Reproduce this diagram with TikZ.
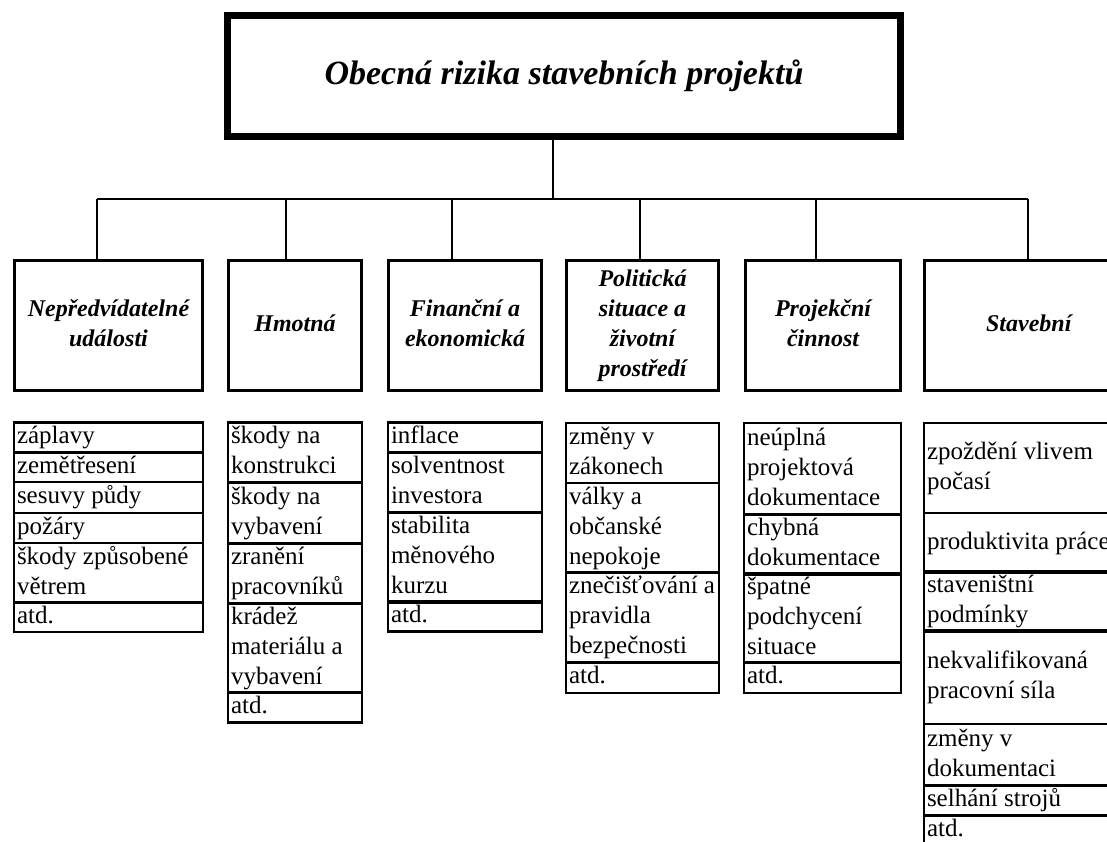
\documentclass[tikz,border=0pt]{standalone}
\usepackage{fontspec}
\setmainfont{Liberation Serif}
\tikzset{
  titlebox/.style={draw, line width=7pt, inner sep=0pt,
    font=\fontsize{34}{40}\selectfont\bfseries\itshape},
  headbox/.style={draw, line width=3pt, inner xsep=3pt, inner ysep=0pt, align=flush center,
    font=\fontsize{24}{30}\selectfont\bfseries\itshape,
    execute at begin node={\spaceskip=0pt\xspaceskip=0pt\strut}, execute at end node=\strut},
  itembox/.style={draw, line width=2.5pt, inner xsep=3pt, inner ysep=0pt, align=flush left,
    font=\fontsize{25}{30}\selectfont,
    execute at begin node={\spaceskip=0pt\xspaceskip=0pt\strut}, execute at end node=\strut},
  link/.style={line width=1.4pt}
}
% box of a given style between the corners (x0,y0) and (x1,y1)
\newcommand{\boxat}[7]{%
  \pgfmathsetmacro{\boxw}{#5-#3}%
  \pgfmathsetmacro{\boxh}{#6-#4}%
  \pgfmathsetmacro{\boxtw}{#5-#3-6}%
  \node[#1, minimum width=\boxw pt, minimum height=\boxh pt, text width=\boxtw pt]
    (#2) at ({(#3+#5)/2},{(#4+#6)/2}) {#7};%
}
\begin{document}
\begin{tikzpicture}[x=1pt, y=-1pt]
\useasboundingbox (0,0) rectangle (1107,841);
\clip (0,0) rectangle (1107,841);

% root
\node[titlebox, minimum width=673pt, minimum height=121pt]
  (title) at (564,76) {Obecná rizika stavebních projektů};

% category headers
\boxat{headbox}{h1}{14.5}{260.5}{202.5}{390.5}{Nepředvídatelné\\události}
\boxat{headbox}{h2}{228.5}{260.5}{361.5}{390.5}{Hmotná}
\boxat{headbox}{h3}{388.5}{260.5}{541.5}{390.5}{Finanční~a\\ekonomická}
\boxat{headbox}{h4}{566.5}{260.5}{718.5}{390.5}{Politická\\situace~a\\životní\\prostředí}
\boxat{headbox}{h5}{745.5}{260.5}{900.5}{390.5}{Projekční\\činnost}
\boxat{headbox}{h6}{924.5}{260.5}{1133}{390.5}{Stavební}

% connectors
\coordinate (bus) at (553,199);
\coordinate (busL) at (97,199);
\coordinate (busR) at (1028,199);
\coordinate (d1) at (97,199);
\coordinate (d2) at (286,199);
\coordinate (d3) at (452,199);
\coordinate (d4) at (640,199);
\coordinate (d5) at (816,199);
\coordinate (d6) at (1028,199);
\draw[link] (title.south -| bus) -- (bus);
\draw[link] (busL) -- (busR);
\draw[link] (d1) -- (d1 |- h1.north);
\draw[link] (d2) -- (d2 |- h2.north);
\draw[link] (d3) -- (d3 |- h3.north);
\draw[link] (d4) -- (d4 |- h4.north);
\draw[link] (d5) -- (d5 |- h5.north);
\draw[link] (d6) -- (d6 |- h6.north);

% Nepředvídatelné události
\boxat{itembox}{a1}{14}{423}{203}{452}{záplavy}
\boxat{itembox}{a2}{14}{452}{203}{482}{zemětřesení}
\boxat{itembox}{a3}{14}{482}{203}{513}{sesuvy~půdy}
\boxat{itembox}{a4}{14}{513}{203}{543}{požáry}
\boxat{itembox}{a5}{14}{543}{203}{603}{škody~způsobené\\větrem}
\boxat{itembox}{a6}{14}{603}{203}{631}{atd.}

% Hmotná
\boxat{itembox}{b1}{228}{423}{362}{482}{škody~na\\konstrukci}
\boxat{itembox}{b2}{228}{482}{362}{544}{škody~na\\vybavení}
\boxat{itembox}{b3}{228}{544}{362}{603}{zranění\\pracovníků}
\boxat{itembox}{b4}{228}{603}{362}{693}{krádež\\materiálu~a\\vybavení}
\boxat{itembox}{b5}{228}{693}{362}{722}{atd.}

% Finanční a ekonomická
\boxat{itembox}{c1}{388}{423}{542}{452}{inflace}
\boxat{itembox}{c2}{388}{452}{542}{513}{solventnost\\investora}
\boxat{itembox}{c3}{388}{513}{542}{602}{stabilita\\měnového\\kurzu}
\boxat{itembox}{c4}{388}{602}{542}{631}{atd.}

% Politická situace a životní prostředí
\boxat{itembox}{e1}{566}{423}{719}{483}{změny~v\\zákonech}
\boxat{itembox}{e2}{566}{483}{719}{573}{války~a\\občanské\\nepokoje}
\boxat{itembox}{e3}{566}{573}{719}{662}{znečišťování~a\\pravidla\\bezpečnosti}
\boxat{itembox}{e4}{566}{662}{719}{693}{atd.}

% Projekční činnost
\boxat{itembox}{f1}{744}{423}{901}{515}{neúplná\\projektová\\dokumentace}
\boxat{itembox}{f2}{744}{515}{901}{574}{chybná\\dokumentace}
\boxat{itembox}{f3}{744}{574}{901}{662}{špatné\\podchycení\\situace}
\boxat{itembox}{f4}{744}{662}{901}{693}{atd.}

% Stavební
\boxat{itembox}{g1}{924}{423}{1133}{513}{zpoždění~vlivem\\počasí}
\boxat{itembox}{g2}{924}{513}{1133}{573}{produktivita~práce}
\boxat{itembox}{g3}{924}{573}{1133}{630}{staveništní\\podmínky}
\boxat{itembox}{g4}{924}{630}{1133}{724}{nekvalifikovaná\\pracovní~síla}
\boxat{itembox}{g5}{924}{724}{1133}{786}{změny~v\\dokumentaci}
\boxat{itembox}{g6}{924}{786}{1133}{815}{selhání~strojů}
\boxat{itembox}{g7}{924}{815}{1133}{846}{atd.}
\end{tikzpicture}
\end{document}
